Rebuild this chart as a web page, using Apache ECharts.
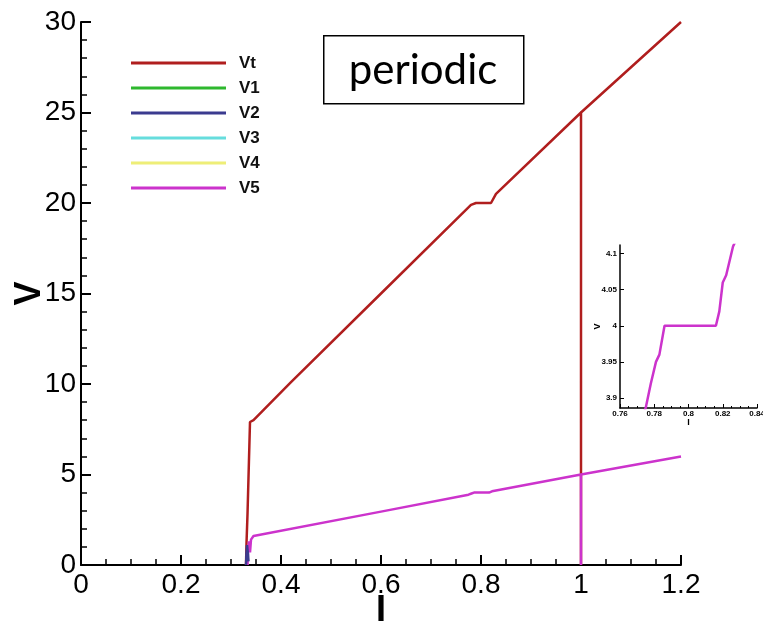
<!DOCTYPE html>
<html>
<head>
<meta charset="utf-8">
<script src="https://cdn.jsdelivr.net/npm/echarts@6/dist/echarts.min.js"></script>
<style>
html,body{margin:0;padding:0;background:#fff;}
#chart{width:763px;height:624px;}
</style>
</head>
<body>
<div id="chart"></div>
<script>
// ---- data (I, V) ----
var vtData = [[0.330,0],[0.331,1.2],[0.333,2.8],[0.336,2.9],[0.338,7.9],[0.345,8.0],[0.42,10.1],[0.6,15.0],[0.78,19.9],[0.79,20.0],[0.82,20.0],[0.83,20.5],[1.0,25.0],[1.0,0],[1.0,25.0],[1.2,30.0]];
var v1Data = [[0.331,0],[0.332,0.6],[0.333,0.9]];
var v2Data = [[0.330,0],[0.331,0.7],[0.332,1.1],[0.334,0.6],[0.335,0.2]];
var v3Data = [[0.332,0],[0.333,0.5]];
var v4Data = [[0.332,0],[0.333,0.4]];
var v5Data = [[0.333,0],[0.334,0.8],[0.336,1.3],[0.338,0.7],[0.340,1.4],[0.345,1.6],[0.6,2.95],[0.775,3.886],[0.778,3.92],[0.781,3.95],[0.783,3.96],[0.786,4.0],[0.816,4.0],[0.818,4.02],[0.820,4.06],[0.822,4.07],[0.826,4.11],[1.0,5.0],[1.0,0],[1.0,5.0],[1.2,6.0]];
var seriesNames = ['Vt','V1','V2','V3','V4','V5'];
var seriesColors = ['#b01e1e','#2eb82e','#3b3b8f','#66dddd','#eeee77','#cc33cc'];
var xTicks = [0,0.2,0.4,0.6,0.8,1.0,1.2];
var yTicks = [0,5,10,15,20,25,30];
var insetYTicks = [3.9,3.95,4,4.05,4.1];
var insetYLabels = ['3.9','3.95','4','4.05','4.1'];

var chart = echarts.init(document.getElementById('chart'), null, {renderer:'canvas'});
var allData = [vtData, v1Data, v2Data, v3Data, v4Data, v5Data];
var zOrder = [2,1,4,1,1,3];
var series = seriesNames.map(function(n,i){
  return {
    name:n, type:'line', data: allData[i], xAxisIndex:0, yAxisIndex:0,
    showSymbol:false, symbol:'none', animation:false,
    lineStyle:{color:seriesColors[i], width:2.5}, itemStyle:{color:seriesColors[i]},
    z: zOrder[i]
  };
});
series.push({
  name:'V5inset', type:'line', data:v5Data, xAxisIndex:1, yAxisIndex:1,
  showSymbol:false, symbol:'none', animation:false, clip:true,
  lineStyle:{color:'#cc33cc', width:2.5}, z:5
});

var axisFont = 'Liberation Sans, Arial, sans-serif';
chart.setOption({
  backgroundColor:'#fff',
  animation:false,
  legend:{
    data:seriesNames, orient:'vertical', left:126, top:49,
    icon:'rect', itemWidth:95, itemHeight:3, itemGap:7,
    textStyle:{fontFamily:axisFont, fontSize:17, fontWeight:'bold', color:'#111', lineHeight:18, padding:[0,0,0,8]}
  },
  grid:[
    {left:81, right:82, top:22, bottom:59, outerBoundsMode:'none', containLabel:false},
    {left:620, width:137, top:245, height:163, outerBoundsMode:'none', containLabel:false}
  ],
  xAxis:[
    {type:'value', min:0, max:1.2, interval:0.2, gridIndex:0,
     name:'I', nameLocation:'middle', nameGap:28, nameMoveOverlap:false,
     nameTextStyle:{fontFamily:axisFont, fontSize:36, fontWeight:'bold', color:'#000'},
     axisLine:{show:true, onZero:false, lineStyle:{color:'#000', width:2}},
     axisTick:{show:true, inside:true, length:10, lineStyle:{color:'#000', width:2}},
     minorTick:{show:true, splitNumber:4, length:6, lineStyle:{color:'#000', width:1.5}},
     splitLine:{show:false},
     axisLabel:{fontFamily:axisFont, fontSize:28, color:'#000', margin:6,
       formatter:function(v){return String(Math.round(v*10)/10);}}
    },
    {type:'value', min:0.76, max:0.84, interval:0.02, gridIndex:1,
     name:'I', nameLocation:'middle', nameGap:10, nameMoveOverlap:false,
     nameTextStyle:{fontFamily:axisFont, fontSize:9, fontWeight:'bold', color:'#000'},
     axisLine:{show:true, onZero:false, lineStyle:{color:'#000', width:1.5}},
     axisTick:{show:true, inside:true, length:4, lineStyle:{color:'#000'}},
     minorTick:{show:true, splitNumber:4, length:2, lineStyle:{color:'#000'}},
     splitLine:{show:false},
     axisLabel:{fontFamily:axisFont, fontSize:8, fontWeight:'bold', color:'#000', margin:2,
       formatter:function(v){return String(Math.round(v*100)/100);}}
    }
  ],
  yAxis:[
    {type:'value', min:0, max:30, interval:5, gridIndex:0,
     name:'V', nameLocation:'middle', nameGap:33, nameRotate:90, nameMoveOverlap:false,
     nameTextStyle:{fontFamily:axisFont, fontSize:36, fontWeight:'bold', color:'#000'},
     axisLine:{show:true, onZero:false, lineStyle:{color:'#000', width:2}},
     axisTick:{show:true, inside:true, length:10, lineStyle:{color:'#000', width:2}},
     minorTick:{show:true, splitNumber:5, length:6, lineStyle:{color:'#000', width:1.5}},
     splitLine:{show:false},
     axisLabel:{fontFamily:axisFont, fontSize:28, color:'#000', margin:5}
    },
    {type:'value', min:3.886, max:4.112, gridIndex:1,
     name:'V', nameLocation:'middle', nameGap:18, nameRotate:90, nameMoveOverlap:false,
     nameTextStyle:{fontFamily:axisFont, fontSize:9, fontWeight:'bold', color:'#000'},
     axisLine:{show:true, onZero:false, lineStyle:{color:'#000', width:1.5}},
     axisTick:{show:true, inside:true, length:4, customValues:insetYTicks, lineStyle:{color:'#000'}},
     splitLine:{show:false},
     axisLabel:{fontFamily:axisFont, fontSize:8, fontWeight:'bold', color:'#000', margin:3,
       customValues:insetYTicks,
       formatter:function(v){var i=insetYTicks.indexOf(v); return i>=0?insetYLabels[i]:String(v);}}
    }
  ],
  graphic:[
    {type:'rect', left:323, top:35, shape:{width:200, height:68},
     style:{fill:'#fff', stroke:'#000', lineWidth:1.5}, z:10},
    {type:'text', x:423, y:70, z:11,
     style:{text:'periodic', fontFamily:'Lato, Open Sans, sans-serif', fontSize:42, fill:'#000', align:'center', verticalAlign:'middle'}}
  ],
  series:series
});
</script>
</body>
</html>
